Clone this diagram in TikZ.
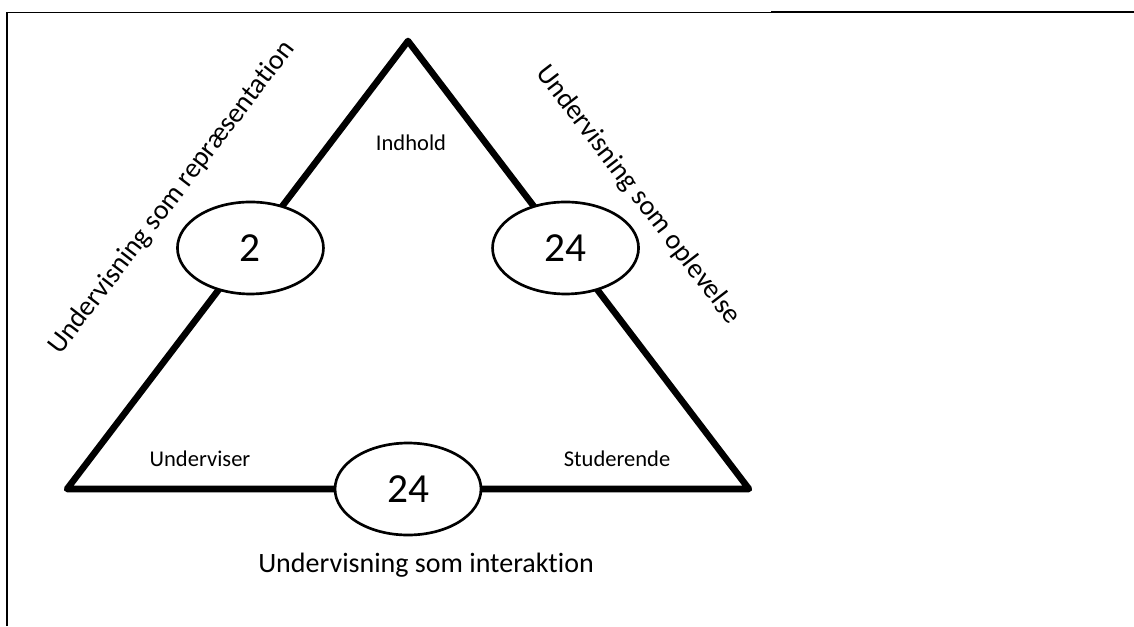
\documentclass[tikz,border=0pt]{standalone}
\usepackage{fontspec}
\setmainfont{Carlito}[Ligatures=NoCommon]
\usetikzlibrary{shapes.geometric, positioning, calc}
\tikzstyle{num}=[draw, ellipse, fill=white, line width=2pt, minimum width=109.5pt, minimum height=69pt, inner sep=0pt, font=\fontsize{31}{36}\selectfont]
\tikzstyle{side}=[line width=4.9pt, line join=round]
\tikzstyle{lbl}=[inner sep=0pt, font=\fontsize{16.9}{20}\selectfont]
\tikzstyle{title}=[inner sep=0pt, font=\fontsize{21}{25}\selectfont]

\begin{document}
\begin{tikzpicture}[x=0.75pt, y=-0.75pt]
    \useasboundingbox (0,0) rectangle (1134,626);
    % frame
    \coordinate (fb) at (7,626);
    \coordinate (fa) at (7,12);
    \coordinate (fm) at (771,12);
    \coordinate (fe) at (1134,12);
    \draw[line width=1.5pt] (fb) -- (fa);
    \draw[line width=0.75pt] (fa) -- (fm);
    \draw[line width=2pt] (fm) -- (fe);

    % triangle
    \coordinate (T) at (408,41);
    \coordinate (L) at (67,489);
    \coordinate (R) at (749,489);
    \draw[side] (T) -- (L) -- (R) -- cycle;

    \node[num] (rep) at ($(T)!0.462!(L)$) {2};
    \node[num] (opl) at ($(T)!0.462!(R)$) {24};
    \node[num] (int) at ($(L)!0.5!(R)$) {24};

    \node[lbl] (ind) at (411,143) {Indhold};
    \node[lbl] (udv) at (200,459) {Underviser};
    \node[lbl] (std) at (617,459) {Studerende};

    \node[title] (tint) at (426,565) {Undervisning som interaktion};
    \node[title, rotate=52.5] (trep) at (172,198) {Undervisning som repræsentation};
    \node[title, rotate=-52.5] (topl) at (638,195) {Undervisning som oplevelse};
\end{tikzpicture}
\end{document}
